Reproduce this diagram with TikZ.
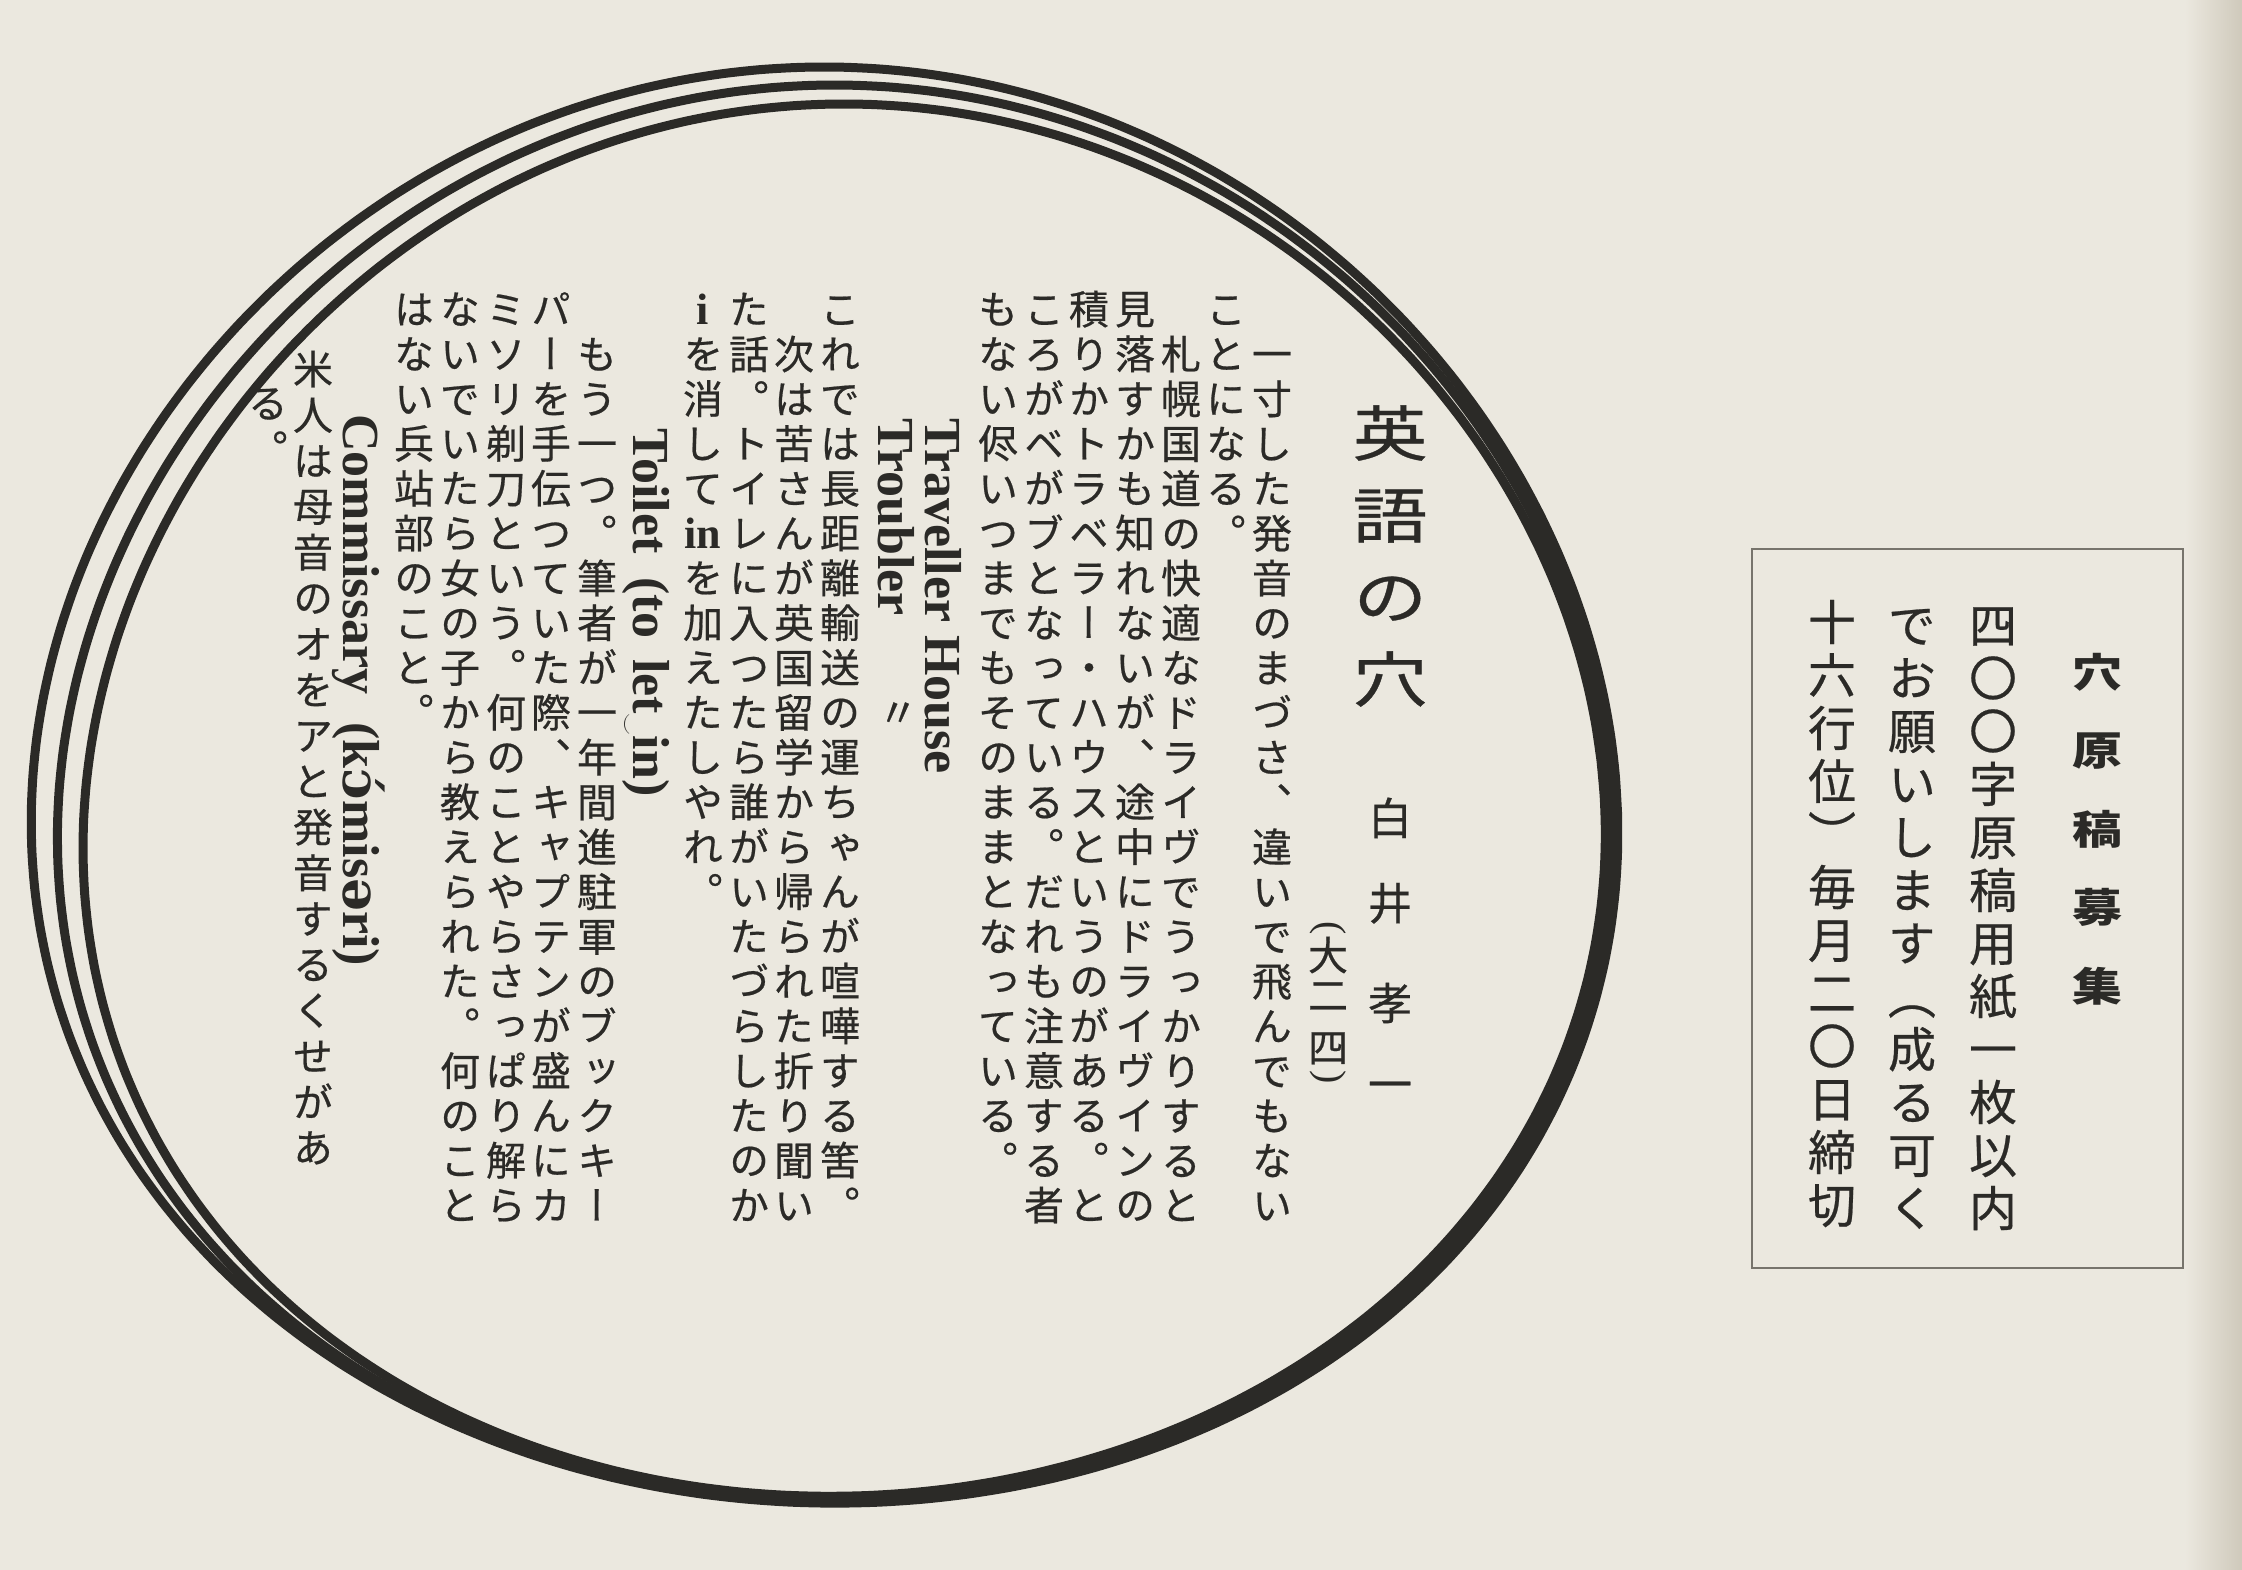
\documentclass[tikz,border=0pt]{standalone}
\usepackage{fontspec}
\usepackage{graphicx}
\newfontfamily\jpv[RawFeature=+vert, FakeBold=0.5]{Noto Sans CJK JP}
\newfontfamily\jpvb[RawFeature=+vert]{Noto Sans CJK JP}
\newfontfamily\latf{Liberation Serif}
\newfontfamily\ipaf{DejaVu Serif}
\definecolor{paper}{HTML}{EBE8DF}
\definecolor{ink}{HTML}{2B2A27}
\definecolor{framec}{HTML}{77746C}
\definecolor{gutter}{HTML}{CFC9BB}
\newcommand\hira[1]{\scalebox{1}[0.8]{#1}}
\newcommand\li{\latf\bfseries\fontsize{44}{44}\selectfont}

\ExplSyntaxOn
\int_new:N \l__vt_int
\tl_new:N \l__vt_tl
\NewDocumentCommand \vtcol { m m m m m }
 {
   \int_zero:N \l__vt_int
   \tl_map_inline:nn {#5}
    {
      \tl_set:Nx \l__vt_tl { \fp_eval:n { #2 + #3 * \l__vt_int } }
      \node [#4] ~ at ~ (#1, \l__vt_tl) ~ {##1};
      \int_incr:N \l__vt_int
    }
 }
\ExplSyntaxOff

\tikzset{
  ch/.style={inner sep=0pt, text height=35.2pt, text depth=4.8pt, text=ink,
    font=\jpv\fontsize{40}{40}\selectfont},
  auth/.style={inner sep=0pt, text height=38.7pt, text depth=5.3pt, text=ink,
    font=\jpv\fontsize{44}{44}\selectfont},
  ttl/.style={inner sep=0pt, text height=52.8pt, text depth=7.2pt, text=ink,
    font=\jpv\fontsize{75}{75}\selectfont},
  bx/.style={inner sep=0pt, text height=42.2pt, text depth=5.8pt, text=ink,
    font=\jpv\fontsize{48}{48}\selectfont},
  bxh/.style={inner sep=0pt, text height=35.2pt, text depth=4.8pt, text=ink,
    font=\jpvb\bfseries\fontsize{50}{50}\selectfont},
  lat/.style={inner sep=0pt, rotate=-90, anchor=west, text height=34pt,
    text depth=0pt, text=ink, font=\latf\bfseries\fontsize{52}{52}\selectfont},
  paren/.style={inner sep=0pt, rotate=-90, text=ink,
    font=\latf\fontsize{40}{40}\selectfont},
  loop/.style={draw=ink, line width=9pt, line join=round},
}

\begin{document}
\begin{tikzpicture}[x=1pt,y=-1pt]
\useasboundingbox (0,0) rectangle (2242,1570);
\fill[paper] (0,0) rectangle (2242,1570);
\shade[left color=paper, right color=gutter] (2185,0) rectangle (2242,1570);

% hand-drawn loops (egg-like ovals, wider in their lower half)
\draw[loop, rotate around={-2:(826,785)}] plot[domain=0:360, samples=120, smooth, variable=\t]
  ({826+792*cos(\t)*(1+0.06*sin(\t))},{785+718*sin(\t)}) -- cycle;
\draw[loop, rotate around={1:(834,793)}] plot[domain=0:360, samples=120, smooth, variable=\t]
  ({834+776*cos(\t)*(1+0.06*sin(\t))},{793+708*sin(\t)}) -- cycle;
\draw[loop, rotate around={3:(842,800)}] plot[domain=0:360, samples=120, smooth, variable=\t]
  ({842+760*cos(\t)*(1+0.06*sin(\t))},{800+696*sin(\t)}) -- cycle;

% title and author
\vtcol{1390}{433}{82}{ttl}{{\hira 英}{\hira 語}{\hira の}{\hira 穴}}
\node[auth] (a1) at (1390,818) {白};
\node[auth] (a2) at (1390,903) {井};
\node[auth] (a3) at (1390,1003) {孝};
\node[auth] (a4) at (1390,1084) {一};
\node[paren] (p1) at (1328,928) {(};
\node[ch] (p2) at (1328,955) {大};
\node[ch] (p3) at (1328,995) {二};
\node[ch] (p4) at (1328,1047) {四};
\node[paren] (p5) at (1328,1077) {)};

% body
\vtcol{1272}{354}{44.8}{ch}{一寸した発音のまづさ、違いで飛んでもない}
\vtcol{1226}{309}{44.8}{ch}{ことになる。}
\vtcol{1181}{354}{44.8}{ch}{札幌国道の快適なドライヴでうっかりすると}
\vtcol{1135}{309}{44.8}{ch}{見落すかも知れないが、途中にドライヴインの}
\vtcol{1089}{309}{44.8}{ch}{積りかトラベラー・ハウスというのがある。と}
\vtcol{1044}{309}{44.8}{ch}{ころがベがブとなっている。だれも注意する者}
\vtcol{998}{309}{44.8}{ch}{もない侭いつまでもそのままとなっている。}
\node[lat] (trav) at (942,418) {Traveller House};
\node[lat] (troub) at (895,418) {Troubler};
\node[ch] (ditto) at (898,712) {〃};
\vtcol{840}{309}{44.8}{ch}{これでは長距離輸送の運ちゃんが喧嘩する筈。}
\vtcol{794}{354}{44.8}{ch}{次は苦さんが英国留学から帰られた折り聞い}
\vtcol{749}{309}{44.8}{ch}{た話。トイレに入つたら誰がいたづらしたのか}
\vtcol{703}{309}{44.8}{ch}{{\li i}を消して{\li in}を加えたしやれ。}
\node[lat] (toil) at (650,428) {Toilet\hspace{24pt}(to\hspace{8pt} let\raisebox{-12pt}{\scalebox{0.9}{$\smile$}}in)};
\vtcol{597}{354}{44.8}{ch}{もう一つ。筆者が一年間進駐軍のブックキー}
\vtcol{551}{309}{44.8}{ch}{パーを手伝つていた際、キャプテンが盛んにカ}
\vtcol{506}{309}{44.8}{ch}{ミソリ剃刀という。何のことやらさっぱり解ら}
\vtcol{460}{309}{44.8}{ch}{ないでいたら女の子から教えられた。何のこと}
\vtcol{414}{309}{44.8}{ch}{はない兵站部のこと。}
\node[lat] (comm) at (360,414) {Commissary\hspace{28pt}(k{\ipaf ɔ́}mis{\ipaf ə}ri)};
\vtcol{313}{369}{45.8}{ch}{米人は母音のオをアと発音するくせがあ}
\vtcol{268}{403}{45.8}{ch}{る。}

% notice box
\draw[framec, line width=2.5pt] (1752,549) rectangle (2183,1268);
\vtcol{2097}{672}{78.5}{bxh}{{\hira 穴}{\hira 原}{\hira 稿}{\hira 募}{\hira 集}}
\vtcol{1993}{625}{53}{bx}{四〇〇字原稿用紙一枚以内}
\vtcol{1912}{625}{53}{bx}{でお願いします（成る可く}
\vtcol{1832}{622}{53}{bx}{十六行位）毎月二〇日締切}
\end{tikzpicture}
\end{document}
